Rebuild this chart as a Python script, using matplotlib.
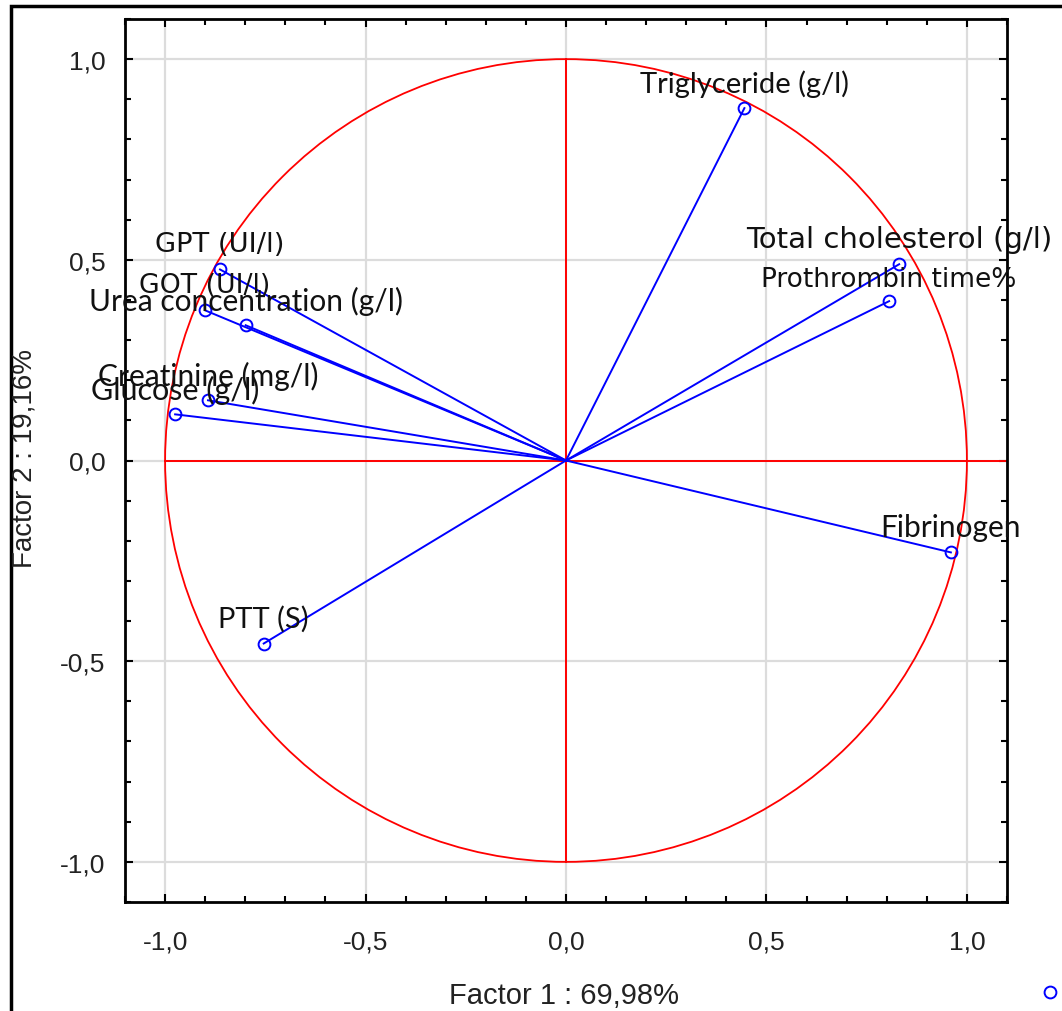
import numpy as np
import matplotlib
matplotlib.use("Agg")
import matplotlib.pyplot as plt
from matplotlib.patches import Circle, Rectangle
from matplotlib.lines import Line2D
from matplotlib.ticker import MultipleLocator

# ---- data (factor loadings) ----
variables = ["Triglyceride (g/l)", "Total cholesterol (g/l)", "Prothrombin time%",
             "Fibrinogen", "PTT (S)", "Glucose (g/l)", "Creatinine (mg/l)",
             "GOT (UI/l)", "Urea concentration (g/l)", "GPT (UI/l)"]
factor1 = [0.445, 0.831, 0.806, 0.960, -0.754, -0.975, -0.893, -0.900, -0.799, -0.863]
factor2 = [0.878, 0.489, 0.397, -0.229, -0.456, 0.115, 0.150, 0.374, 0.337, 0.476]
xtick_vals = [-1.0, -0.5, 0.0, 0.5, 1.0]
ytick_vals = [-1.0, -0.5, 0.0, 0.5, 1.0]
xlabel = "Factor 1 : 69,98%"
ylabel = "Factor 2 : 19,16%"

# label styling (font family, size, vertical offset in points)
label_style = {
    "Triglyceride (g/l)": ("Lato", 21, 18),
    "Total cholesterol (g/l)": ("DejaVu Sans", 21, 18),
    "Prothrombin time%": ("DejaVu Sans", 19, 16),
    "Fibrinogen": ("Lato", 21.5, 18),
    "PTT (S)": ("Lato", 21, 18),
    "Glucose (g/l)": ("Lato", 22, 18),
    "Creatinine (mg/l)": ("Lato", 21.5, 18),
    "GOT (UI/l)": ("DejaVu Sans", 19.3, 18),
    "Urea concentration (g/l)": ("Lato", 21.5, 18),
    "GPT (UI/l)": ("DejaVu Sans", 19.7, 18),
}

W, H = 1062, 1012
fig = plt.figure(figsize=(W / 100, H / 100), dpi=100)
fig.patch.set_facecolor("white")

# outer frame (only top and left visible in reference)
fig.patches.append(Rectangle((11 / W, -0.05), 1.2, 1 - 7 / H + 0.05, transform=fig.transFigure,
                             fill=False, edgecolor="black", linewidth=2.5, zorder=0))

ax = fig.add_axes([125 / W, (H - 903) / H, (1007 - 125) / W, (903 - 20) / H])
ax.set_xlim(-1.1, 1.1)
ax.set_ylim(-1.1, 1.1)

ax.set_xticks(xtick_vals)
ax.set_yticks(ytick_vals)
ax.set_xticklabels([f"{v:.1f}".replace(".", ",") for v in xtick_vals])
ax.set_yticklabels([f"{v:.1f}".replace(".", ",") for v in ytick_vals])
ax.xaxis.set_minor_locator(MultipleLocator(0.1))
ax.yaxis.set_minor_locator(MultipleLocator(0.1))
ax.tick_params(which="both", direction="in", top=True, right=True, color="black", width=1.5)
ax.tick_params(which="major", length=6, labelsize=19, labelcolor="#222222", pad=14,
               labelfontfamily="Liberation Sans")
ax.tick_params(which="minor", length=4)
ax.tick_params(axis="x", which="major", pad=20)
for s in ax.spines.values():
    s.set_linewidth(2)
    s.set_color("black")

ax.grid(True, which="major", color="#dcdcdc", linewidth=1.6, zorder=0)
ax.set_axisbelow(True)

# red unit circle and axes
ax.add_patch(Circle((0, 0), 1.0, fill=False, edgecolor="red", linewidth=1.3, zorder=2))
ax.plot([0, 0], [-1.0, 1.0], color="red", linewidth=1.4, zorder=2)
ax.plot([-1.0, 1.1], [0, 0], color="red", linewidth=1.4, zorder=2)

# vectors
for x, y, name in zip(factor1, factor2, variables):
    ax.plot([0, x], [0, y], color="blue", linewidth=1.4, zorder=3)
    ax.plot([x], [y], marker="o", markersize=8.5, markerfacecolor="none",
            markeredgecolor="blue", markeredgewidth=1.4, zorder=4)
    fam, fs, off = label_style[name]
    ax.annotate(name, (x, y), xytext=(0, off), textcoords="offset points",
                ha="center", va="center", fontsize=fs, color="#111111",
                family=[fam, "DejaVu Sans"], zorder=5, annotation_clip=False)

fig.text(564 / W, 1 - 996 / H, xlabel, ha="center", va="center", fontsize=21,
         family="Liberation Sans", color="#222222")
fig.text(25 / W, 1 - 458 / H, ylabel, ha="center", va="center", fontsize=20,
         family="Liberation Sans", color="#222222", rotation=90)

# legend marker at bottom right
fig.lines.append(Line2D([1050 / W], [1 - 993 / H], transform=fig.transFigure, marker="o",
                        markersize=8.5, markerfacecolor="none", markeredgecolor="blue",
                        markeredgewidth=1.4, linestyle="none"))

fig.savefig("out.png", dpi=100)
